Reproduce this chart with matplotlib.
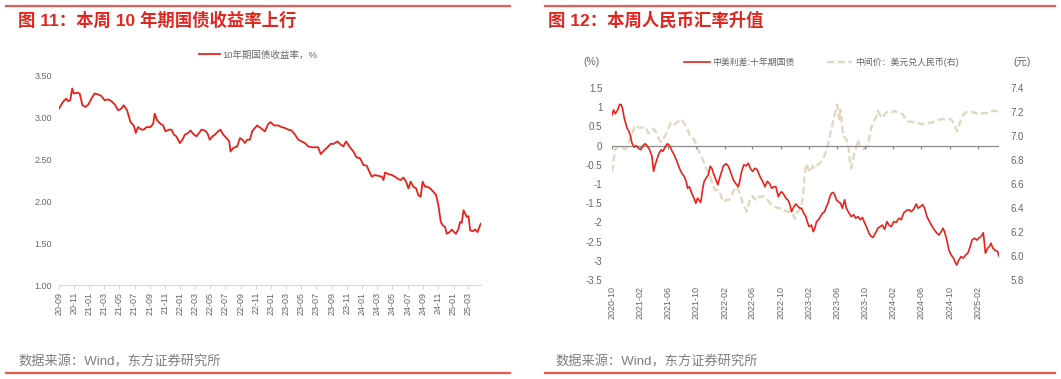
import numpy as np
import pandas as pd
import matplotlib
matplotlib.use('Agg')
from matplotlib import pyplot as plt
import matplotlib.dates as mdates

plt.rcParams['font.family'] = ['Liberation Sans', 'Noto Sans CJK SC']
plt.rcParams['axes.unicode_minus'] = False

# ---- 图11: 10年期国债收益率 ----
cgb_dates = ['2020-09-01', '2020-09-17', '2020-09-30', '2020-10-07', '2020-10-16', '2020-10-24', '2020-10-30',
             '2020-11-12', '2020-11-23', '2020-12-04', '2020-12-17', '2020-12-28', '2021-01-09', '2021-01-22',
             '2021-02-05', '2021-02-18', '2021-03-03', '2021-03-17', '2021-03-30', '2021-04-13', '2021-04-26',
             '2021-05-09', '2021-05-19', '2021-06-01', '2021-06-15', '2021-06-28', '2021-07-06', '2021-07-15',
             '2021-07-29', '2021-08-07', '2021-08-18', '2021-09-03', '2021-09-14', '2021-09-20', '2021-09-30',
             '2021-10-13', '2021-10-24', '2021-11-02', '2021-11-17', '2021-11-26', '2021-12-06', '2021-12-16',
             '2021-12-30', '2022-01-09', '2022-01-19', '2022-02-01', '2022-02-11', '2022-02-21', '2022-03-07',
             '2022-03-17', '2022-03-27', '2022-04-09', '2022-04-19', '2022-04-29', '2022-05-10', '2022-05-19',
             '2022-06-02', '2022-06-11', '2022-06-22', '2022-07-05', '2022-07-16', '2022-07-21', '2022-08-01',
             '2022-08-17', '2022-08-28', '2022-09-07', '2022-09-17', '2022-09-26', '2022-10-07', '2022-10-16',
             '2022-10-27', '2022-11-05', '2022-11-19', '2022-12-06', '2022-12-20', '2022-12-29', '2023-01-11',
             '2023-01-29', '2023-02-11', '2023-02-24', '2023-03-10', '2023-03-23', '2023-04-06', '2023-04-19',
             '2023-05-02', '2023-05-16', '2023-05-29', '2023-06-12', '2023-06-25', '2023-07-08', '2023-07-18',
             '2023-07-31', '2023-08-14', '2023-08-27', '2023-09-07', '2023-09-23', '2023-10-03', '2023-10-17',
             '2023-10-28', '2023-11-10', '2023-11-26', '2023-12-09', '2023-12-23', '2024-01-05', '2024-01-19',
             '2024-01-29', '2024-02-08', '2024-02-21', '2024-03-05', '2024-03-19', '2024-03-26', '2024-04-01',
             '2024-04-15', '2024-04-28', '2024-05-11', '2024-05-25', '2024-06-03', '2024-06-14', '2024-06-25',
             '2024-07-04', '2024-07-13', '2024-07-24', '2024-08-04', '2024-08-13', '2024-08-22', '2024-08-30',
             '2024-09-09', '2024-09-18', '2024-09-29', '2024-10-12', '2024-10-23', '2024-11-01', '2024-11-11',
             '2024-11-19', '2024-11-28', '2024-12-05', '2024-12-16', '2024-12-25', '2025-01-03', '2025-01-11',
             '2025-01-21', '2025-01-27', '2025-02-03', '2025-02-10', '2025-02-17', '2025-02-23', '2025-03-02',
             '2025-03-09', '2025-03-19', '2025-03-29', '2025-04-07', '2025-04-15', '2025-04-20']
cgb_yield = [3.10, 3.18, 3.22, 3.19, 3.20, 3.34, 3.28, 3.29, 3.28, 3.14, 3.12, 3.15, 3.22, 3.28,
             3.27, 3.25, 3.20, 3.21, 3.19, 3.15, 3.08, 3.10, 3.14, 3.08, 2.94, 2.90, 2.81, 2.88,
             2.85, 2.85, 2.88, 2.88, 2.92, 3.04, 2.96, 2.92, 2.90, 2.83, 2.85, 2.85, 2.79, 2.77,
             2.69, 2.73, 2.79, 2.81, 2.84, 2.80, 2.77, 2.81, 2.85, 2.84, 2.81, 2.73, 2.77, 2.79,
             2.83, 2.85, 2.79, 2.75, 2.71, 2.59, 2.63, 2.65, 2.75, 2.73, 2.69, 2.73, 2.73, 2.83,
             2.87, 2.90, 2.87, 2.83, 2.92, 2.94, 2.90, 2.90, 2.88, 2.87, 2.85, 2.84, 2.79, 2.73,
             2.71, 2.69, 2.65, 2.64, 2.64, 2.64, 2.56, 2.60, 2.64, 2.68, 2.68, 2.71, 2.68, 2.65,
             2.71, 2.65, 2.59, 2.52, 2.51, 2.43, 2.42, 2.35, 2.29, 2.31, 2.30, 2.29, 2.25, 2.34,
             2.32, 2.31, 2.29, 2.26, 2.25, 2.28, 2.23, 2.15, 2.23, 2.17, 2.15, 2.07, 2.05, 2.23,
             2.17, 2.17, 2.15, 2.11, 2.07, 1.95, 1.75, 1.71, 1.69, 1.61, 1.63, 1.66, 1.63, 1.61,
             1.67, 1.75, 1.74, 1.89, 1.85, 1.81, 1.82, 1.65, 1.64, 1.66, 1.63, 1.69, 1.73]

# ---- 图12: 中美利差 & 美元兑人民币中间价 ----
spread_dates = ['2020-10-01', '2020-10-08', '2020-10-15', '2020-10-25', '2020-11-03', '2020-11-09', '2020-11-15',
                '2020-11-23', '2020-12-05', '2020-12-13', '2020-12-19', '2020-12-26', '2021-01-05', '2021-01-14',
                '2021-01-24', '2021-02-03', '2021-02-12', '2021-02-22', '2021-03-04', '2021-03-13', '2021-03-23',
                '2021-03-30', '2021-04-06', '2021-04-13', '2021-04-20', '2021-05-01', '2021-05-09', '2021-05-19',
                '2021-05-29', '2021-06-07', '2021-06-17', '2021-06-27', '2021-07-09', '2021-07-20', '2021-07-30',
                '2021-08-09', '2021-08-18', '2021-08-24', '2021-09-01', '2021-09-11', '2021-09-21', '2021-09-29',
                '2021-10-06', '2021-10-14', '2021-10-20', '2021-10-29', '2021-11-04', '2021-11-12', '2021-11-22',
                '2021-11-30', '2021-12-07', '2021-12-14', '2021-12-25', '2022-01-02', '2022-01-12', '2022-01-19',
                '2022-01-26', '2022-02-07', '2022-02-17', '2022-02-27', '2022-03-10', '2022-03-22', '2022-04-01',
                '2022-04-08', '2022-04-15', '2022-04-25', '2022-05-04', '2022-05-14', '2022-05-24', '2022-06-02',
                '2022-06-12', '2022-06-22', '2022-07-03', '2022-07-15', '2022-07-25', '2022-08-04', '2022-08-13',
                '2022-08-23', '2022-09-02', '2022-09-10', '2022-09-21', '2022-09-28', '2022-10-05', '2022-10-15',
                '2022-10-24', '2022-11-03', '2022-11-10', '2022-11-17', '2022-11-27', '2022-12-06', '2022-12-16',
                '2022-12-23', '2022-12-30', '2023-01-09', '2023-01-18', '2023-01-24', '2023-02-01', '2023-02-11',
                '2023-02-19', '2023-02-26', '2023-03-05', '2023-03-14', '2023-03-22', '2023-03-31', '2023-04-09',
                '2023-04-17', '2023-04-24', '2023-05-02', '2023-05-09', '2023-05-16', '2023-05-23', '2023-05-30',
                '2023-06-07', '2023-06-17', '2023-06-25', '2023-07-05', '2023-07-12', '2023-07-24', '2023-08-03',
                '2023-08-13', '2023-08-22', '2023-09-01', '2023-09-11', '2023-09-20', '2023-09-30', '2023-10-10',
                '2023-10-18', '2023-10-28', '2023-11-05', '2023-11-16', '2023-11-26', '2023-12-06', '2023-12-15',
                '2023-12-25', '2024-01-04', '2024-01-13', '2024-01-23', '2024-02-02', '2024-02-13', '2024-02-25',
                '2024-03-06', '2024-03-16', '2024-03-28', '2024-04-08', '2024-04-18', '2024-04-28', '2024-05-10',
                '2024-05-17', '2024-05-27', '2024-06-07', '2024-06-15', '2024-06-25', '2024-07-06', '2024-07-18',
                '2024-07-28', '2024-08-07', '2024-08-16', '2024-08-26', '2024-09-02', '2024-09-09', '2024-09-19',
                '2024-09-28', '2024-10-08', '2024-10-18', '2024-10-26', '2024-11-01', '2024-11-10', '2024-11-20',
                '2024-11-30', '2024-12-09', '2024-12-19', '2024-12-29', '2025-01-06', '2025-01-17', '2025-01-27',
                '2025-02-04', '2025-02-14', '2025-02-24', '2025-03-05', '2025-03-15', '2025-03-22', '2025-03-29',
                '2025-04-06', '2025-04-17', '2025-04-27', '2025-05-02']
spread = [0.80, 0.93, 0.83, 0.92, 1.07, 1.07, 0.98, 0.72, 0.46, 0.37, 0.28, 0.07, -0.04, 0.00,
          -0.07, -0.11, 0.00, 0.05, -0.02, -0.11, -0.28, -0.67, -0.50, -0.37, -0.24, -0.11, -0.15, -0.04,
          0.05, 0.00, -0.13, -0.24, -0.41, -0.59, -0.72, -0.80, -0.93, -1.11, -1.07, -1.24, -1.37, -1.50,
          -1.37, -1.43, -1.48, -1.11, -0.93, -0.85, -0.76, -0.54, -0.59, -0.72, -0.89, -1.02, -0.80, -0.67,
          -0.53, -0.47, -0.54, -0.70, -0.89, -1.00, -1.07, -0.89, -0.67, -0.50, -0.53, -0.46, -0.61, -0.67,
          -0.59, -0.63, -0.80, -0.93, -1.07, -0.93, -0.98, -1.11, -1.07, -1.07, -1.33, -1.24, -1.20, -1.28,
          -1.37, -1.43, -1.54, -1.72, -1.59, -1.52, -1.59, -1.63, -1.63, -1.76, -1.85, -1.98, -2.11, -2.07,
          -2.24, -2.15, -1.98, -1.93, -1.85, -1.76, -1.72, -1.59, -1.50, -1.33, -1.24, -1.22, -1.28, -1.41,
          -1.46, -1.50, -1.63, -1.41, -1.63, -1.76, -1.85, -1.80, -1.89, -1.85, -1.93, -1.87, -2.02, -2.15,
          -2.28, -2.37, -2.39, -2.27, -2.15, -2.11, -2.07, -2.18, -1.98, -2.07, -2.11, -1.98, -2.00, -1.89,
          -1.93, -1.76, -1.69, -1.67, -1.72, -1.66, -1.52, -1.63, -1.59, -1.54, -1.63, -1.85, -1.98, -2.11,
          -2.20, -2.28, -2.33, -2.24, -2.15, -2.24, -2.46, -2.72, -2.85, -2.93, -3.05, -3.11, -2.98, -2.89,
          -2.93, -2.85, -2.80, -2.63, -2.46, -2.41, -2.46, -2.41, -2.37, -2.27, -2.80, -2.67, -2.63, -2.54,
          -2.67, -2.73, -2.76, -2.87]

fx_dates = ['2020-10-01', '2020-10-08', '2020-10-15', '2020-10-25', '2020-11-06', '2020-11-17', '2020-11-28',
            '2020-12-08', '2020-12-16', '2020-12-26', '2021-01-05', '2021-01-14', '2021-01-24', '2021-02-03',
            '2021-02-15', '2021-02-26', '2021-03-08', '2021-03-18', '2021-03-30', '2021-04-10', '2021-04-20',
            '2021-05-01', '2021-05-12', '2021-05-24', '2021-06-03', '2021-06-13', '2021-06-24', '2021-07-06',
            '2021-07-16', '2021-07-26', '2021-08-04', '2021-08-14', '2021-08-24', '2021-09-01', '2021-09-11',
            '2021-09-21', '2021-10-03', '2021-10-14', '2021-10-25', '2021-11-04', '2021-11-12', '2021-11-22',
            '2021-12-07', '2021-12-14', '2021-12-21', '2021-12-31', '2022-01-09', '2022-01-19', '2022-01-29',
            '2022-02-09', '2022-02-21', '2022-03-03', '2022-03-13', '2022-03-22', '2022-04-01', '2022-04-11',
            '2022-04-20', '2022-04-30', '2022-05-07', '2022-05-14', '2022-05-21', '2022-06-02', '2022-06-12',
            '2022-06-22', '2022-07-03', '2022-07-15', '2022-07-25', '2022-08-04', '2022-08-16', '2022-08-27',
            '2022-09-06', '2022-09-16', '2022-09-28', '2022-10-09', '2022-10-19', '2022-10-29', '2022-11-10',
            '2022-11-21', '2022-12-01', '2022-12-09', '2022-12-20', '2022-12-30', '2023-01-06', '2023-01-14',
            '2023-01-21', '2023-01-28', '2023-02-07', '2023-02-16', '2023-02-26', '2023-03-08', '2023-03-19',
            '2023-03-31', '2023-04-10', '2023-04-20', '2023-04-29', '2023-05-09', '2023-05-19', '2023-05-27',
            '2023-06-02', '2023-06-11', '2023-06-17', '2023-06-22', '2023-06-28', '2023-07-10', '2023-07-20',
            '2023-07-27', '2023-08-03', '2023-08-10', '2023-08-17', '2023-08-25', '2023-09-01', '2023-09-08',
            '2023-09-15', '2023-09-22', '2023-09-30', '2023-10-10', '2023-10-18', '2023-10-28', '2023-11-08',
            '2023-11-19', '2023-11-26', '2023-12-03', '2023-12-15', '2023-12-25', '2024-01-04', '2024-01-16',
            '2024-01-27', '2024-02-06', '2024-02-21', '2024-03-02', '2024-03-13', '2024-03-25', '2024-04-04',
            '2024-04-18', '2024-05-02', '2024-05-17', '2024-05-31', '2024-06-15', '2024-06-29', '2024-07-13',
            '2024-07-28', '2024-08-11', '2024-08-26', '2024-09-09', '2024-09-23', '2024-10-08', '2024-10-22',
            '2024-11-02', '2024-11-10', '2024-11-20', '2024-11-30', '2024-12-12', '2024-12-26', '2025-01-09',
            '2025-01-23', '2025-02-07', '2025-02-21', '2025-03-08', '2025-03-22', '2025-04-06', '2025-04-20',
            '2025-05-02']
usdcny = [6.70, 6.80, 6.89, 6.91, 6.89, 6.90, 6.89, 6.91, 6.97, 7.01, 7.07, 7.09, 7.07, 7.07,
          7.07, 7.07, 7.02, 7.04, 7.06, 7.03, 6.98, 6.95, 6.98, 7.02, 7.07, 7.11, 7.09, 7.11,
          7.12, 7.14, 7.12, 7.09, 7.06, 7.01, 7.00, 6.97, 6.92, 6.86, 6.82, 6.77, 6.73, 6.70,
          6.62, 6.58, 6.55, 6.55, 6.54, 6.48, 6.45, 6.47, 6.47, 6.51, 6.55, 6.58, 6.55, 6.50,
          6.44, 6.40, 6.37, 6.41, 6.48, 6.50, 6.47, 6.50, 6.49, 6.50, 6.48, 6.47, 6.44, 6.42,
          6.41, 6.40, 6.40, 6.38, 6.38, 6.37, 6.37, 6.36, 6.31, 6.36, 6.38, 6.41, 6.52, 6.69,
          6.77, 6.73, 6.70, 6.75, 6.73, 6.76, 6.77, 6.80, 6.84, 6.90, 6.97, 7.07, 7.14, 7.22,
          7.26, 7.14, 7.22, 7.12, 7.00, 6.98, 6.93, 6.80, 6.73, 6.80, 6.87, 6.91, 6.97, 6.91,
          6.90, 6.89, 6.90, 6.91, 6.97, 7.07, 7.12, 7.16, 7.21, 7.18, 7.15, 7.18, 7.20, 7.21,
          7.20, 7.21, 7.19, 7.19, 7.18, 7.14, 7.12, 7.12, 7.11, 7.11, 7.10, 7.10, 7.11, 7.11,
          7.12, 7.13, 7.14, 7.14, 7.14, 7.14, 7.09, 7.04, 7.08, 7.14, 7.18, 7.20, 7.20, 7.20,
          7.19, 7.18, 7.19, 7.19, 7.19, 7.21, 7.21, 7.19]

RED = '#e8221b'
TITLE_RED = '#e0271f'
TAN = '#e2d8c0'
GRAY_TXT = '#7f7f7f'
TICK_TXT = '#666666'

fig = plt.figure(figsize=(10.61, 3.79), dpi=100)

# frame lines and titles
for x0, x1 in [(0.006, 0.481), (0.514, 0.994)]:
    fig.add_artist(plt.Line2D([x0, x1], [0.984, 0.984], color='#e95a52', lw=1.6))
    fig.add_artist(plt.Line2D([x0, x1], [0.017, 0.017], color='#e95a52', lw=1.6))
fig.text(0.017, 0.947, '图 11：本周 10 年期国债收益率上行', color=TITLE_RED, fontsize=12.5,
         fontweight='bold', va='center', ha='left')
fig.text(0.5165, 0.947, '图 12：本周人民币汇率升值', color=TITLE_RED, fontsize=12.5,
         fontweight='bold', va='center', ha='left')
fig.text(0.017, 0.045, '数据来源：Wind，东方证券研究所', color=GRAY_TXT, fontsize=9.5, va='center')
fig.text(0.524, 0.045, '数据来源：Wind，东方证券研究所', color=GRAY_TXT, fontsize=9.5, va='center')

# ---- left chart ----
ax1 = fig.add_axes([0.0556, 0.248, 0.3977, 0.554])
ax1.plot(pd.to_datetime(cgb_dates), cgb_yield, color=RED, lw=1.3, label='10年期国债收益率，%')
ax1.set_ylim(1.0, 3.5)
ax1.set_yticks(np.arange(1.0, 3.51, 0.5))
ax1.yaxis.set_major_formatter(matplotlib.ticker.FormatStrFormatter('%.2f'))
ax1.set_xlim(pd.Timestamp('2020-09-01'), pd.Timestamp('2025-04-21'))
ax1.set_xticks(pd.date_range('2020-09-01', '2025-03-01', freq='2MS'))
ax1.xaxis.set_major_formatter(mdates.DateFormatter('%y-%m'))
for s in ['top', 'right', 'left']:
    ax1.spines[s].set_visible(False)
ax1.spines['bottom'].set_color('#d9d9d9')
ax1.tick_params(axis='y', length=0, labelsize=6.5, labelcolor=TICK_TXT, pad=5)
ax1.tick_params(axis='x', length=3, color='#d9d9d9', labelsize=6.5, labelcolor=TICK_TXT,
                labelrotation=90, pad=2)
h1, l1 = ax1.get_legend_handles_labels()
fig.legend(h1, l1, loc='center', bbox_to_anchor=(0.243, 0.855), frameon=False, fontsize=6.8,
           labelcolor=TICK_TXT, handlelength=2.3, handletextpad=0.2)

# ---- right chart ----
ax2 = fig.add_axes([0.5768, 0.2612, 0.3648, 0.5066])
ax3 = ax2.twinx()
ax3.plot(pd.to_datetime(fx_dates), usdcny, color=TAN, lw=1.7, ls=(0, (3, 1.5)),
         label='中间价：美元兑人民币(右)')
ax2.plot(pd.to_datetime(spread_dates), spread, color=RED, lw=1.2, label='中美利差:十年期国债')
ax2.set_zorder(ax3.get_zorder() + 1)
ax2.patch.set_visible(False)
ax2.set_ylim(-3.5, 1.5)
ax2.set_yticks(np.arange(-3.5, 1.51, 0.5))
ax2.set_yticklabels(['%g' % v for v in np.arange(-3.5, 1.51, 0.5)])
ax3.set_ylim(5.8, 7.4)
ax3.set_yticks(np.arange(5.8, 7.41, 0.2))
ax3.yaxis.set_major_formatter(matplotlib.ticker.FormatStrFormatter('%.1f'))
xticks2 = pd.date_range('2020-10-01', '2025-02-01', freq='4MS')
ax2.set_xlim(pd.Timestamp('2020-10-01'), pd.Timestamp('2025-05-03'))
ax2.set_xticks(xticks2)
ax2.xaxis.set_major_formatter(mdates.DateFormatter('%Y-%m'))
ax2.axhline(0, color='#8c8c8c', lw=0.9, zorder=1)
ax2.vlines(xticks2, -0.09, 0, color='#8c8c8c', lw=0.9)
for a in (ax2, ax3):
    for s in a.spines.values():
        s.set_visible(False)
ax2.tick_params(axis='y', length=0, labelsize=7, labelcolor=TICK_TXT, pad=7)
ax3.tick_params(axis='y', length=0, labelsize=7, labelcolor=TICK_TXT, pad=8)
ax2.tick_params(axis='x', length=0, labelsize=6.5, labelcolor=TICK_TXT, labelrotation=90, pad=4)
fig.text(0.5495, 0.836, '(%)', color=TICK_TXT, fontsize=7.5, va='center')
fig.text(0.955, 0.836, '(元)', color=TICK_TXT, fontsize=7.5, va='center')
h2, l2 = ax2.get_legend_handles_labels()
h3, l3 = ax3.get_legend_handles_labels()
fig.legend(h2 + h3, l2 + l3, loc='center', bbox_to_anchor=(0.774, 0.836), ncol=2, frameon=False,
           fontsize=6.4, labelcolor=TICK_TXT, handlelength=2.9, handletextpad=0.3, columnspacing=3.6)

fig.savefig('out.png', dpi=100)
